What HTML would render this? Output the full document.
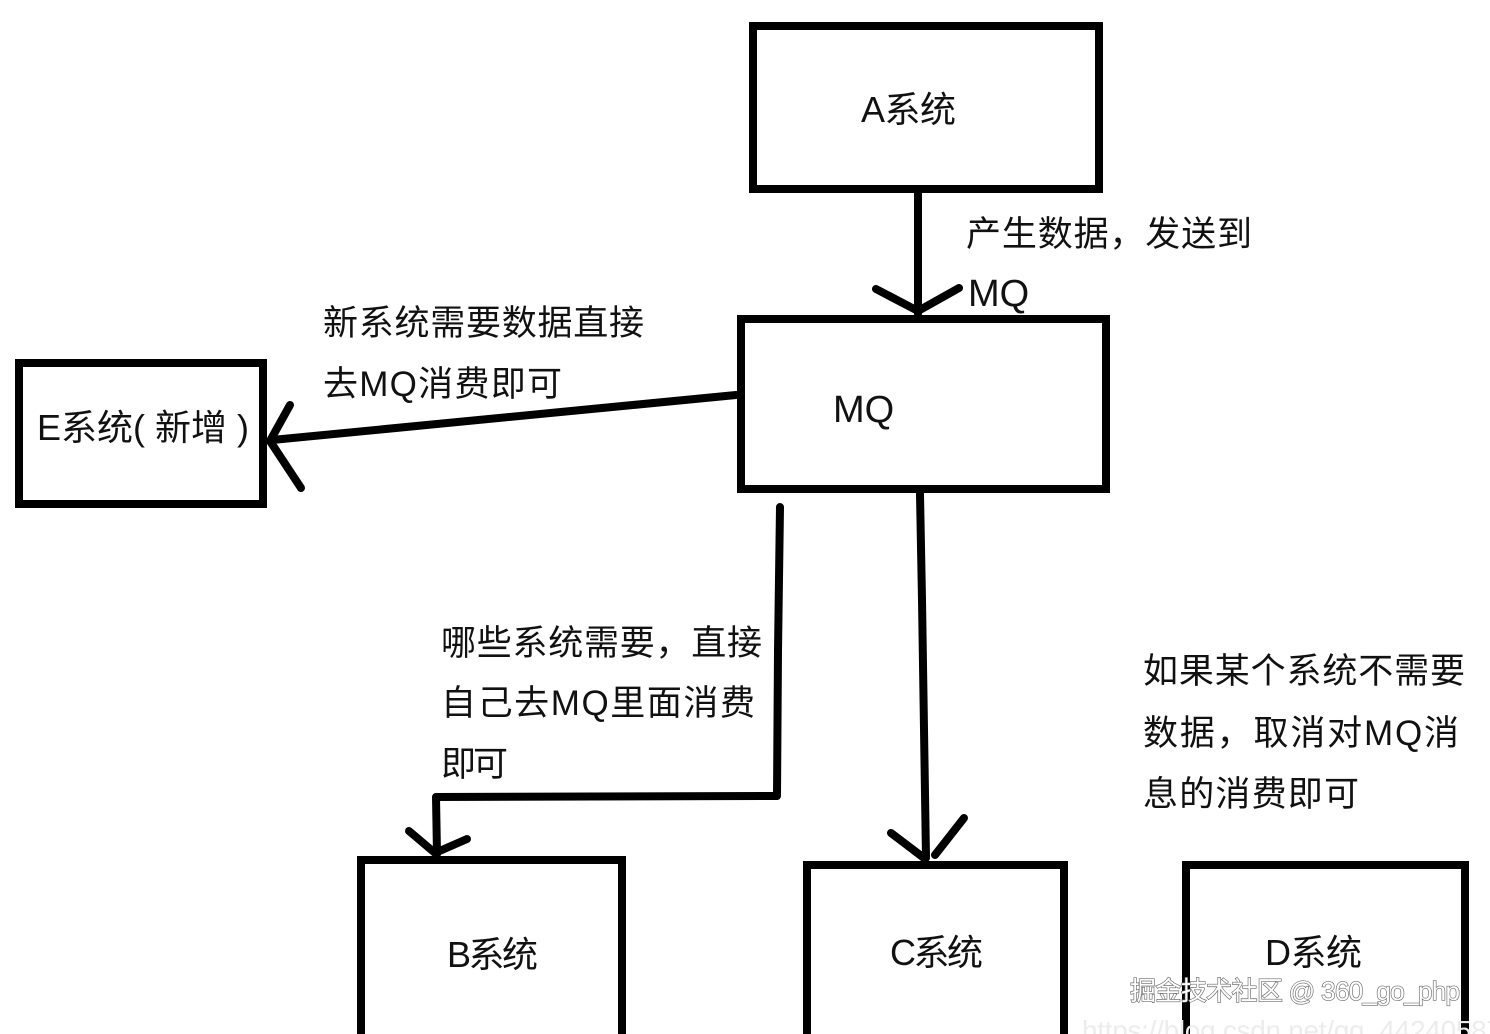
<!DOCTYPE html>
<html>
<head>
<meta charset="utf-8">
<style>
  html, body { margin: 0; padding: 0; background: #ffffff; }
  body { width: 1490px; height: 1034px; overflow: hidden; }
  svg { display: block; }
  text { font-family: "Liberation Sans", "Noto Sans CJK SC", sans-serif; fill: #111; }
</style>
</head>
<body>
<svg width="1490" height="1034" viewBox="0 0 1490 1034" xmlns="http://www.w3.org/2000/svg">
  <rect x="0" y="0" width="1490" height="1034" fill="#ffffff"/>

  <!-- Boxes -->
  <g fill="none" stroke="#000" stroke-width="8" stroke-linejoin="miter">
    <rect x="753" y="26" width="346" height="163"/>
    <rect x="741" y="319" width="365" height="170"/>
    <rect x="19" y="363" width="244" height="141"/>
    <path d="M361,1034 L361,860 L622,860 L622,1034"/>
    <path d="M807,1034 L807,865 L1064,865 L1064,1034"/>
    <path d="M1186,1034 L1186,865 L1465,865 L1465,1034"/>
  </g>

  <!-- Connectors -->
  <g fill="none" stroke="#000" stroke-width="8" stroke-linecap="round" stroke-linejoin="round">
    <!-- A -> MQ -->
    <line x1="918" y1="192" x2="918" y2="314"/>
    <polyline points="876,289 918,311 959,288"/>
    <!-- MQ -> E -->
    <line x1="736" y1="395" x2="272" y2="440"/>
    <polyline points="290,405 270,441 301,488"/>
    <!-- MQ -> B -->
    <polyline points="780,507 778,650 777,796 436,797 437,854"/>
    <polyline points="409,831 435,853 467,839"/>
    <!-- MQ -> C -->
    <polyline points="920,494 922,600 926,858"/>
    <line x1="891" y1="833" x2="924" y2="858"/>
    <line x1="964" y1="818" x2="935" y2="855"/>
  </g>

  <!-- Box labels -->
  <text x="861" y="122" font-size="36" textLength="95">A系统</text>
  <text x="833" y="422" font-size="38">MQ</text>
  <text x="37" y="440" font-size="36" textLength="212">E系统( 新增 )</text>
  <text x="447" y="967" font-size="36" textLength="91">B系统</text>
  <text x="890" y="965" font-size="36" textLength="93">C系统</text>
  <text x="1265" y="965" font-size="36" textLength="97">D系统</text>

  <!-- Connector labels -->
  <text x="966" y="246" font-size="35" textLength="286">产生数据，发送到</text>
  <text x="968" y="306" font-size="38">MQ</text>

  <text x="323" y="335" font-size="35" textLength="321">新系统需要数据直接</text>
  <text x="323" y="396" font-size="35" textLength="239">去MQ消费即可</text>

  <text x="441" y="655" font-size="35" textLength="321">哪些系统需要，直接</text>
  <text x="441" y="715" font-size="35" textLength="314">自己去MQ里面消费</text>
  <text x="441" y="776" font-size="35" textLength="67">即可</text>

  <text x="1143" y="683" font-size="35" textLength="322">如果某个系统不需要</text>
  <text x="1143" y="745" font-size="35" textLength="316">数据，取消对MQ消</text>
  <text x="1143" y="806" font-size="35" textLength="216">息的消费即可</text>

  <!-- Watermarks -->
  <text x="1082" y="1040" font-size="28" style="fill:#ececec" textLength="420">https://blog.csdn.net/qq_44240587</text>
  <text x="1130" y="1000" font-size="26" textLength="330" style="fill:#ffffff; stroke:#6a6a6a; stroke-width:1.3px; paint-order:stroke;">掘金技术社区 @ 360_go_php</text>
</svg>
</body>
</html>
